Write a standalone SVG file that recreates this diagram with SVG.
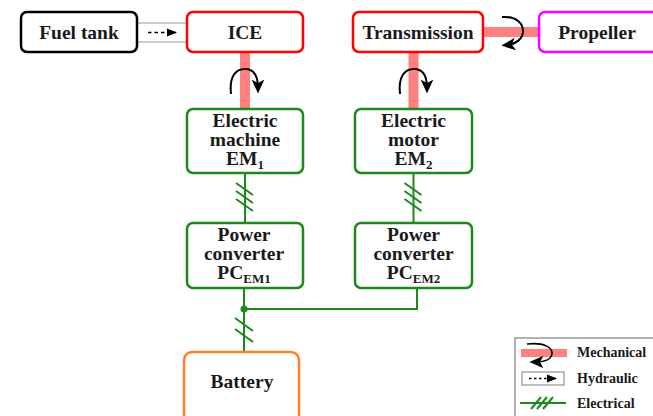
<svg xmlns="http://www.w3.org/2000/svg" width="653" height="416" viewBox="0 0 653 416">
<defs>
<marker id="ah" viewBox="0 0 10 10" refX="9" refY="5" markerWidth="5" markerHeight="5" orient="auto" markerUnits="userSpaceOnUse">
<path d="M0,0 L10,5 L0,10 z" fill="#000"/>
</marker>
<marker id="rot" viewBox="0 0 10 10" refX="6" refY="5" markerWidth="14" markerHeight="14" orient="auto" markerUnits="userSpaceOnUse">
<path d="M0,0.5 L10,5 L0,9.5 L2.5,5 z" fill="#000"/>
</marker>
<marker id="dah" viewBox="0 0 10 10" refX="9" refY="5" markerWidth="10" markerHeight="10" orient="auto" markerUnits="userSpaceOnUse">
<path d="M0,1 L10,5 L0,9 z" fill="#000"/>
</marker>
</defs>
<style>
.box{fill:#fff;stroke-width:2.5}
.t{font-family:"Liberation Serif","Times New Roman",serif;font-weight:bold;font-size:19.5px;fill:#1a1a1a;text-anchor:middle}
.sub{font-size:13px}
.lg{font-family:"Liberation Serif","Times New Roman",serif;font-weight:bold;font-size:14px;fill:#1a1a1a}
.shaft{stroke:#ff8080;fill:none}
.rot{stroke:#000;stroke-width:2;fill:none;marker-end:url(#rot)}
.el{stroke:#1a8a1a;stroke-width:2;fill:none}
.hy{stroke:#9a9a9a;stroke-width:1.2;fill:none}
.dash{stroke:#000;stroke-width:1.6;stroke-dasharray:3.5,3;fill:none;marker-end:url(#dah)}
</style>
<rect width="653" height="416" fill="#fff"/>
<g id="connectors">
<line class="hy" x1="137" y1="23" x2="187" y2="23"/>
<line class="hy" x1="137" y1="42" x2="187" y2="42"/>
<line class="dash" x1="148" y1="32.5" x2="176" y2="32.5"/>
<line class="shaft" x1="245" y1="52" x2="245" y2="109" stroke-width="10"/>
<line class="shaft" x1="413.5" y1="52" x2="413.5" y2="109" stroke-width="10"/>
<line class="shaft" x1="483" y1="32" x2="539" y2="32" stroke-width="10"/>
<path class="rot" d="M231 94 C229 76,236 69,245 69 C253 69,258 74,258 88"/>
<path class="rot" d="M400 94 C398 76,405 69,414 69 C422 69,427 74,427 88"/>
<path class="rot" d="M502 17 C517 16,523 24,523 31 C523 39,516 44,507 45"/>
<line class="el" x1="245" y1="173" x2="245" y2="223"/>
<line class="el" x1="413.5" y1="173" x2="413.5" y2="223"/>
<path class="el" d="M236 183 L253 195 M236 191 L253 203 M236 199 L253 211"/>
<path class="el" d="M404.5 183 L421.5 195 M404.5 191 L421.5 203 M404.5 199 L421.5 211"/>
<path class="el" d="M244 288 L244 352 M244 309 L417 309 L417 288"/>
<circle cx="244" cy="309" r="3.5" fill="#1a8a1a"/>
<path class="el" d="M235 318 L253 331 M235 329 L253 342"/>
</g>
<g id="fueltank"><rect class="box" x="21" y="12" width="116" height="40" rx="6" stroke="#000"/><text class="t" x="79" y="39">Fuel tank</text></g>
<g id="ice"><rect class="box" x="187" y="12" width="116" height="40" rx="6" stroke="#ff0000"/><text class="t" x="245" y="39">ICE</text></g>
<g id="transmission"><rect class="box" x="353" y="12" width="130" height="40" rx="6" stroke="#ff0000"/><text class="t" x="418" y="39">Transmission</text></g>
<g id="propeller"><rect class="box" x="539" y="12" width="125" height="40" rx="6" stroke="#ff00ff"/><text class="t" x="597" y="39">Propeller</text></g>
<g id="em1"><rect class="box" x="187" y="109" width="116" height="64" rx="6" stroke="#1a8a1a"/><text class="t" x="245" y="127">Electric</text><text class="t" x="245" y="146">machine</text><text class="t" x="245" y="165">EM<tspan class="sub" dy="4">1</tspan></text></g>
<g id="em2"><rect class="box" x="355" y="109" width="117" height="64" rx="6" stroke="#1a8a1a"/><text class="t" x="413.5" y="127">Electric</text><text class="t" x="413.5" y="146">motor</text><text class="t" x="413.5" y="165">EM<tspan class="sub" dy="4">2</tspan></text></g>
<g id="pc1"><rect class="box" x="187" y="223" width="116" height="65" rx="6" stroke="#1a8a1a"/><text class="t" x="244" y="241">Power</text><text class="t" x="244" y="260">converter</text><text class="t" x="244" y="279">PC<tspan class="sub" dy="4">EM1</tspan></text></g>
<g id="pc2"><rect class="box" x="355" y="223" width="117" height="65" rx="6" stroke="#1a8a1a"/><text class="t" x="413.5" y="241">Power</text><text class="t" x="413.5" y="260">converter</text><text class="t" x="413.5" y="279">PC<tspan class="sub" dy="4">EM2</tspan></text></g>
<g id="battery"><rect class="box" x="184" y="352" width="115" height="70" rx="8" stroke="#ff7f27"/><text class="t" x="242" y="388">Battery</text></g>
<g id="legend">
<rect x="515" y="338" width="150" height="90" fill="#fff" stroke="#7f7f7f" stroke-width="1.2"/>
<rect x="521" y="349" width="46" height="8" fill="#ff8080"/>
<path d="M527 344 C545 342,552 348,552 353 C552 359,545 362,535 362" stroke="#000" stroke-width="1.6" fill="none" marker-end="url(#rot)"/>
<text class="lg" x="577" y="357">Mechanical</text>
<rect x="522" y="372" width="42" height="13" fill="#fff" stroke="#7f7f7f" stroke-width="1"/>
<line x1="529" y1="378.5" x2="556" y2="378.5" stroke="#000" stroke-width="1.4" stroke-dasharray="2.5,2.5" marker-end="url(#dah)"/>
<text class="lg" x="577" y="383">Hydraulic</text>
<line class="el" x1="520" y1="403" x2="566" y2="403"/>
<path class="el" d="M531 409 L541 397 M537 409 L547 397 M543 409 L553 397"/>
<text class="lg" x="577" y="408">Electrical</text>
</g>
</svg>
